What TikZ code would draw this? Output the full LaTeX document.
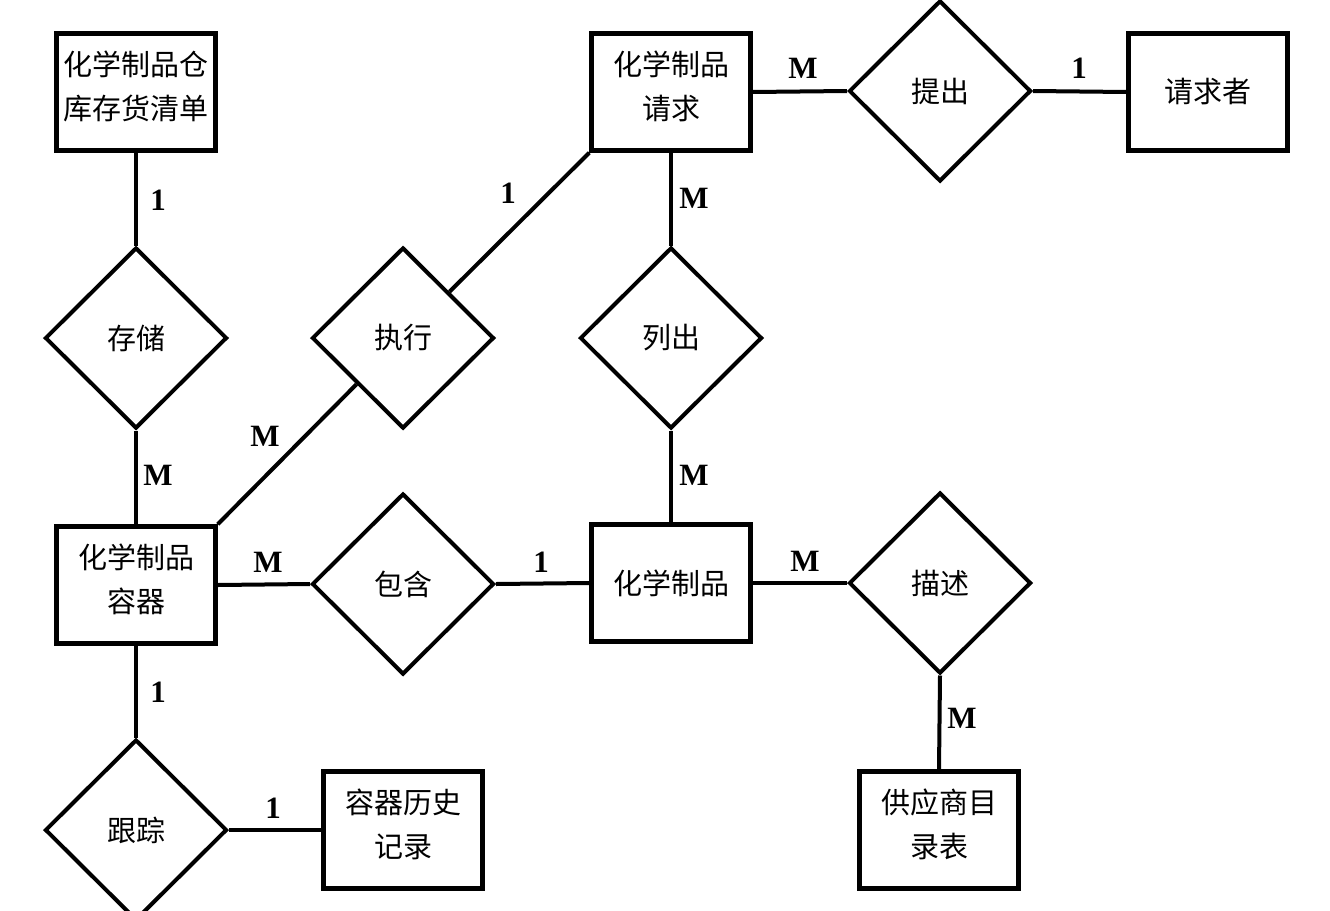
\documentclass[tikz,border=0pt]{standalone}
\usepackage{fontspec}
\newfontfamily\cjk{Noto Sans CJK SC}
\newfontfamily\cardfont{Liberation Serif}
\usetikzlibrary{shapes.geometric}
\newcommand\cjktext{\cjk\fontsize{29}{44}\selectfont}
\begin{document}
\begin{tikzpicture}[x=1pt,y=-1pt,
 ent/.style={draw,line width=4.5pt,minimum width=159pt,minimum height=117pt,inner sep=0pt,align=center,font=\cjktext},
 two/.style={text depth=14pt},
 rel/.style={draw,diamond,line width=4pt,minimum width=182pt,minimum height=181pt,inner sep=0pt,font=\cjktext},
 conn/.style={line width=4pt},
 card/.style={font=\cardfont\bfseries\fontsize{31}{31}\selectfont,inner sep=0pt}]
\useasboundingbox (0,0) rectangle (1330,910);
\clip (0,0) rectangle (1330,910);
\fill[white] (0,0) rectangle (1330,910);
% entities
\node[ent,two] (inv) at (136,92) {化学制品仓\\库存货清单};
\node[ent,two] (req) at (671,92) {化学制品\\请求};
\node[ent] (rqr) at (1208,92) {请求者};
\node[ent,two] (cont) at (136,585) {化学制品\\容器};
\node[ent] (chem) at (671,583) {化学制品};
\node[ent,two] (sup) at (939,830) {供应商目\\录表};
\node[ent,two] (hist) at (403,830) {容器历史\\记录};
% relationships
\node[rel] (tichu) at (940,91) {提出};
\node[rel] (store) at (136,338) {存储};
\node[rel] (exec) at (403,338) {执行};
\node[rel] (list) at (671,338) {列出};
\node[rel] (incl) at (403,584) {包含};
\node[rel] (desc) at (940,583) {描述};
\node[rel] (track) at (136,830) {跟踪};
% connectors
\draw[conn] (inv.south) -- (store.north);
\draw[conn] (store.south) -- (cont.north);
\draw[conn] (cont.north east) -- (exec.south west);
\draw[conn] (exec.north east) -- (req.south west);
\draw[conn] (req.south) -- (list.north);
\draw[conn] (list.south) -- (chem.north);
\draw[conn] (req.east) -- (tichu.west);
\draw[conn] (tichu.east) -- (rqr.west);
\draw[conn] (cont.east) -- (incl.west);
\draw[conn] (incl.east) -- (chem.west);
\draw[conn] (chem.east) -- (desc.west);
\draw[conn] (desc.south) -- (sup.north);
\draw[conn] (cont.south) -- (track.north);
\draw[conn] (track.east) -- (hist.west);
% cardinalities
\node[card] (c1) at (158,200) {1};
\node[card] (c2) at (158,475) {M};
\node[card] (c3) at (265,436) {M};
\node[card] (c4) at (508,193) {1};
\node[card] (c5) at (694,198) {M};
\node[card] (c6) at (694,475) {M};
\node[card] (c7) at (803,68) {M};
\node[card] (c8) at (1079,68) {1};
\node[card] (c9) at (268,562) {M};
\node[card] (c10) at (541,562) {1};
\node[card] (c11) at (805,561) {M};
\node[card] (c12) at (962,718) {M};
\node[card] (c13) at (158,692) {1};
\node[card] (c14) at (273,808) {1};
\end{tikzpicture}
\end{document}
